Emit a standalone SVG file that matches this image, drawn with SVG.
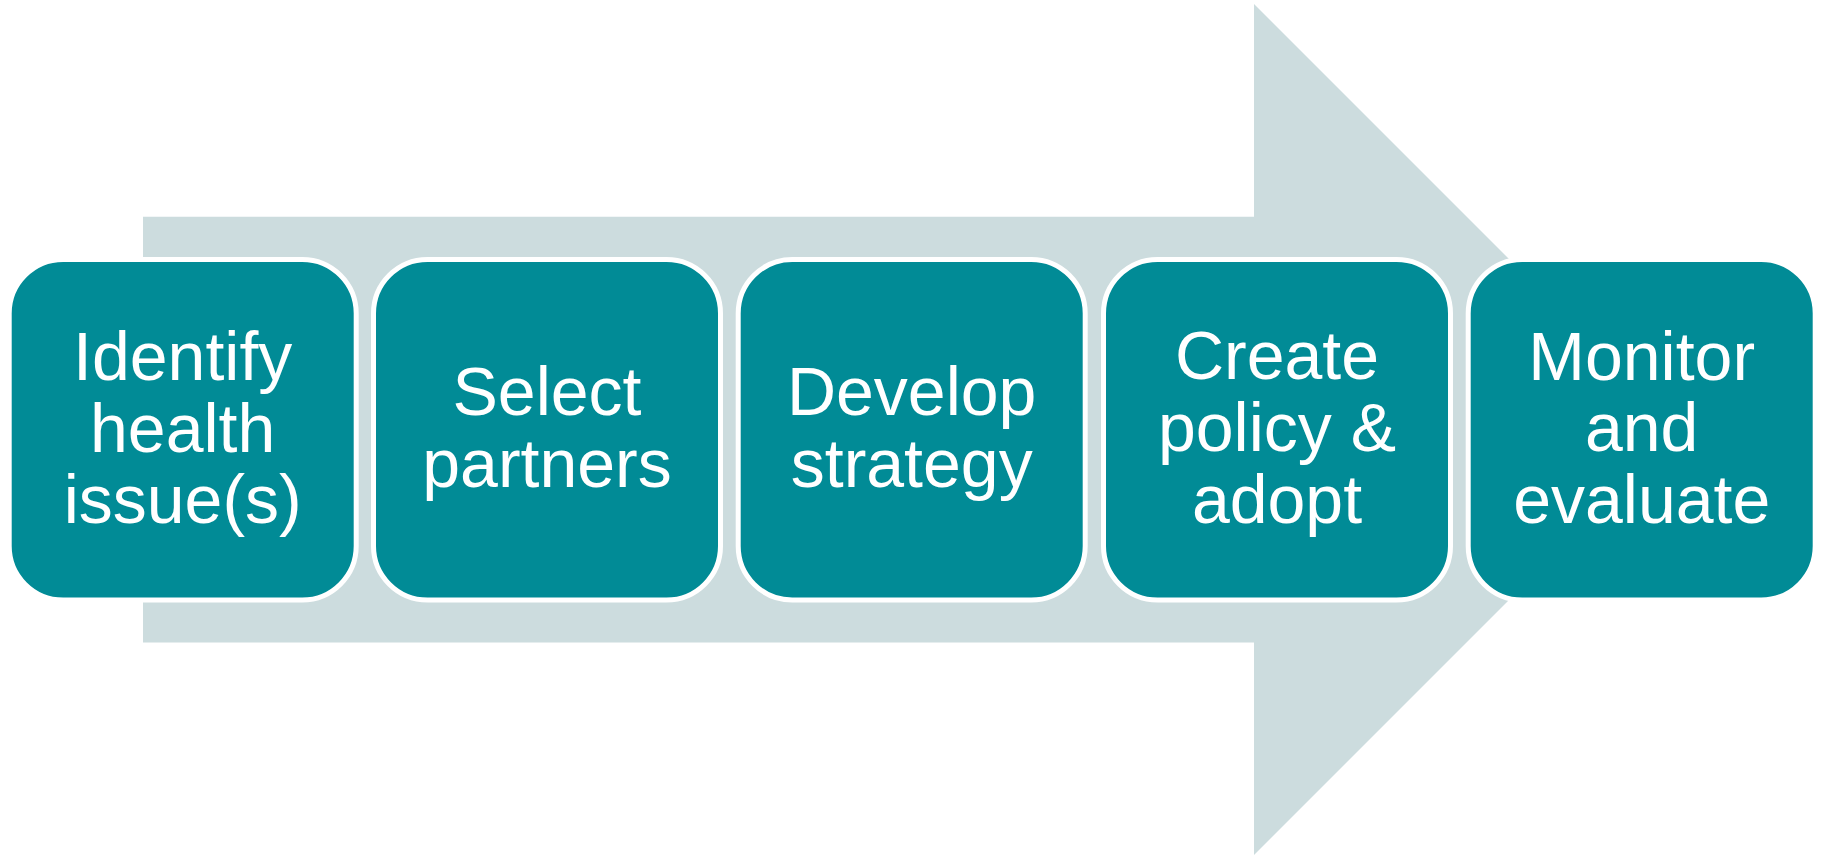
<svg xmlns="http://www.w3.org/2000/svg" width="1822" height="856" viewBox="0 0 1822 856">
<style>
.box{fill:#018B96;stroke:#FFFFFF;stroke-width:5}
.lbl{font-family:"Liberation Sans",Arial,sans-serif;font-size:68px;fill:#FFFFFF;text-anchor:middle}
</style>
<rect width="1822" height="856" fill="#FFFFFF"/>
<g id="arrow">
<polygon points="143,216.7 1254,216.7 1254,4 1679.5,429.5 1254,855 1254,642.5 143,642.5" fill="#CCDCDE"/>
</g>
<g id="connectors"></g>
<g id="n1">
<rect class="box" x="9.2" y="259.5" width="347" height="340.5" rx="54" ry="54"/>
<text class="lbl" x="182.7" y="380">Identify</text>
<text class="lbl" x="182.7" y="451.5">health</text>
<text class="lbl" x="182.7" y="523">issue(s)</text>
</g>
<g id="n2">
<rect class="box" x="373.5" y="259.5" width="347" height="340.5" rx="54" ry="54"/>
<text class="lbl" x="547" y="415">Select</text>
<text class="lbl" x="547" y="486.7">partners</text>
</g>
<g id="n3">
<rect class="box" x="738.2" y="259.5" width="347" height="340.5" rx="54" ry="54"/>
<text class="lbl" x="911.7" y="415">Develop</text>
<text class="lbl" x="911.7" y="486.7">strategy</text>
</g>
<g id="n4">
<rect class="box" x="1103.5" y="259.5" width="347" height="340.5" rx="54" ry="54"/>
<text class="lbl" x="1277" y="379">Create</text>
<text class="lbl" x="1277" y="451">policy &amp;</text>
<text class="lbl" x="1277" y="523">adopt</text>
</g>
<g id="n5">
<rect class="box" x="1468.2" y="259.5" width="347" height="340.5" rx="54" ry="54"/>
<text class="lbl" x="1641.7" y="380">Monitor</text>
<text class="lbl" x="1641.7" y="451">and</text>
<text class="lbl" x="1641.7" y="523">evaluate</text>
</g>
</svg>
